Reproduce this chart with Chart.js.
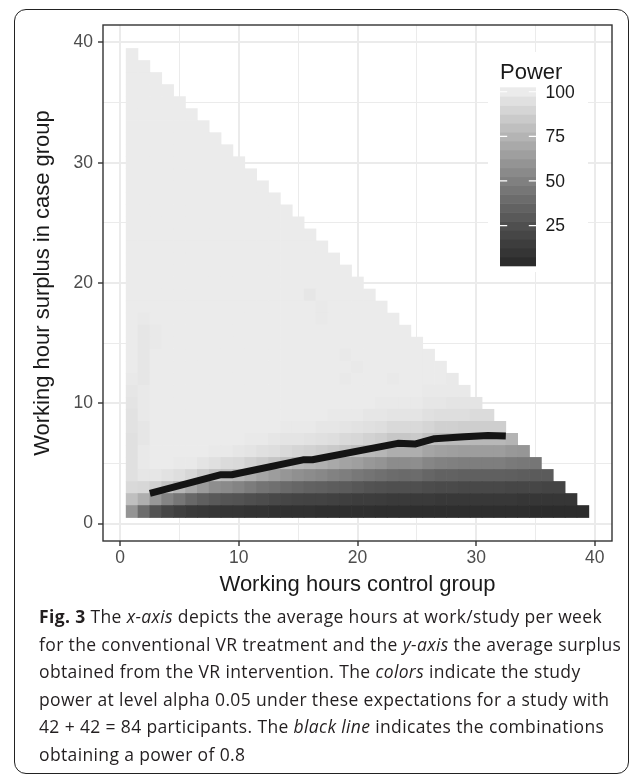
<!DOCTYPE html>
<html>
<head>
<meta charset="utf-8">
<script src="https://cdn.jsdelivr.net/npm/chart.js@4.4.0/dist/chart.umd.min.js"></script>
<style>
  html, body { margin: 0; padding: 0; background: #fff; }
  body { width: 633px; height: 774px; position: relative; overflow: hidden; }
  #frame { position: absolute; left: 14px; top: 9px; width: 615px; height: 765px; box-sizing: border-box;
           border: 1.6px solid #222; border-radius: 12px; pointer-events: none; }
  #chart { position: absolute; left: 0; top: 0; }
  #caption { position: absolute; left: 39px; top: 603px; font-family: "Open Sans", sans-serif; font-size: 17.5px;
             letter-spacing: 0.36px; line-height: 27.5px; color: #231f20; white-space: nowrap; }
</style>
</head>
<body>
<div id="frame"></div>
<canvas id="chart" width="633" height="605"></canvas>
<div id="caption"><b>Fig. 3</b> The <i>x-axis</i> depicts the average hours at work/study per week<br>for the conventional VR treatment and the <i>y-axis</i> the average surplus<br>obtained from the VR intervention. The <i>colors</i> indicate the study<br>power at level alpha 0.05 under these expectations for a study with<br>42 + 42 = 84 participants. The <i>black line</i> indicates the combinations<br>obtaining a power of 0.8</div>
<script>
// tick labels
const xTicks = [0, 10, 20, 30, 40];
const yTicks = [0, 10, 20, 30, 40];
const gridSteps = [0, 5, 10, 15, 20, 25, 30, 35, 40];
const legendBreaks = [25, 50, 75, 100];

// power (%) per row of surplus hours (y = 1..39), columns are control hours x = 1..(40 - y)
const row1 = [60,40,27,20,16,13,12,11,10,10,9,9,8,8,8,8,7,7,7,7,7,6,6,6,6,6,6,6,6,6,6,6,6,6,5,5,5,5,5];
const row2 = [80,72,62,52,45,38,33,30,28,27,25,23,21,20,19,18,18,17,16,15,15,14,13,13,13,13,12,12,12,12,12,12,12,11,11,11,11,11];
const row3 = [92,91,88,82,76,70,63,57,55,52,48,44,42,39,37,35,34,32,31,29,27,26,25,25,25,23,22,22,21,21,21,21,20,20,20,19,19];
const row4 = [95,98,98,96,94,91,86,82,79,76,72,68,64,61,58,56,54,51,49,46,44,42,40,39,40,37,35,35,34,34,34,34,33,32,31,31];
const row5 = [95,99,100,100,99,99,97,95,93,92,89,86,83,80,77,75,73,70,67,65,62,60,56,56,57,53,51,50,49,49,49,49,47,46,45];
const row6 = [95,99,100,100,100,100,100,99,99,98,97,95,94,92,90,89,87,85,83,80,78,76,72,72,72,68,66,65,64,64,64,64,62,61];
const row7 = [95,98,100,100,100,100,100,100,100,100,99,99,98,97,97,96,95,94,92,91,89,87,84,84,85,81,79,78,78,77,77,77,75];
const row8 = [96,98,100,100,100,100,100,100,100,100,100,100,100,99,99,99,98,98,97,96,95,94,92,92,92,90,88,88,87,87,87,87];
const row9 = [96,99,100,100,100,100,100,100,100,100,100,100,100,100,100,100,100,99,99,99,98,98,97,97,97,95,94,94,94,93,93];
const row10 = [97,99,100,100,100,100,100,100,100,100,100,100,100,100,100,100,100,100,100,100,100,99,99,99,99,98,98,97,97,97];
const row11 = [98,99,100,100,100,100,100,100,100,100,100,100,100,100,100,100,100,100,100,100,100,100,100,100,100,99,99,99,99];
const row12 = [99,98,100,100,100,100,100,100,100,100,100,100,100,100,100,100,100,100,99,100,100,100,99,100,100,100,100,99];
const row13 = [100,98,100,100,100,100,100,100,100,100,100,100,100,100,100,100,100,100,100,99,100,100,100,100,100,100,100];
const row14 = [100,98,100,100,100,100,100,100,100,100,100,100,100,100,100,100,100,100,99,100,100,100,100,100,100,100];
const row15 = [100,98,99,100,100,100,100,100,100,100,100,100,100,100,100,100,100,100,100,100,100,100,100,100,100];
const row16 = [100,98,99,100,100,100,100,100,100,100,100,100,100,100,100,100,100,100,100,100,100,100,100,100];
const row17 = [100,99,100,100,100,100,100,100,100,100,100,100,100,100,100,100,99,100,100,100,100,100,100];
const row18 = [100,100,100,100,100,100,100,100,100,100,100,100,100,100,100,100,99,100,100,100,100,100];
const row19 = [100,100,100,100,100,100,100,100,100,100,100,100,100,100,100,98,100,100,100,100,100];
const row20 = [100,100,100,100,100,100,100,100,100,100,100,100,100,100,100,100,100,100,100,100];
const row21 = [100,100,100,100,100,100,100,100,100,100,100,100,100,100,100,100,100,100,100];
const row22 = [100,100,100,100,100,100,100,100,100,100,100,100,100,100,100,100,100,100];
const row23 = [100,100,100,100,100,100,100,100,100,100,100,100,100,100,100,100,100];
const row24 = [100,100,100,100,100,100,100,100,100,100,100,100,100,100,100,100];
const row25 = [100,100,100,100,100,100,100,100,100,100,100,100,100,100,100];
const row26 = [100,100,100,100,100,100,100,100,100,100,100,100,100,100];
const row27 = [100,100,100,100,100,100,100,100,100,100,100,100,100];
const row28 = [100,100,100,100,100,100,100,100,100,100,100,100];
const row29 = [100,100,100,100,100,100,100,100,100,100,100];
const row30 = [100,100,100,100,100,100,100,100,100,100];
const row31 = [100,100,100,100,100,100,100,100,100];
const row32 = [100,100,100,100,100,100,100,100];
const row33 = [100,100,100,100,100,100,100];
const row34 = [100,100,100,100,100,100];
const row35 = [100,100,100,100,100];
const row36 = [100,100,100,100];
const row37 = [100,100,100];
const row38 = [100,100];
const row39 = [100];

// combinations giving a power of 0.8
const lineX = [2.5, 8.5, 9.4, 15.4, 16.2, 23.4, 24.9, 26.5, 29.0, 31.0, 32.5];
const lineY = [2.5, 4.06, 4.06, 5.3, 5.3, 6.67, 6.62, 7.06, 7.22, 7.32, 7.27];

const powerRows = [row1, row2, row3, row4, row5, row6, row7, row8, row9, row10, row11, row12, row13,
  row14, row15, row16, row17, row18, row19, row20, row21, row22, row23, row24, row25, row26, row27,
  row28, row29, row30, row31, row32, row33, row34, row35, row36, row37, row38, row39];

const allPower = powerRows.flat();
const pMin = Math.min(...allPower);
const pMax = Math.max(...allPower);

// grey gradient interpolated in Lab lightness, like ggplot's scale_fill_gradient
function srgbToL(g) {
  const c = g / 255;
  const lin = c <= 0.04045 ? c / 12.92 : Math.pow((c + 0.055) / 1.055, 2.4);
  const f = lin > 0.008856 ? Math.cbrt(lin) : 7.787 * lin + 16 / 116;
  return 116 * f - 16;
}
function lToGrey(L) {
  const fy = (L + 16) / 116;
  const lin = fy ** 3 > 0.008856 ? fy ** 3 : (fy - 16 / 116) / 7.787;
  const c = lin <= 0.0031308 ? 12.92 * lin : 1.055 * Math.pow(lin, 1 / 2.4) - 0.055;
  return Math.round(Math.max(0, Math.min(1, c)) * 255);
}
const lowL = srgbToL(44), highL = srgbToL(235);
function powerColor(v) {
  const t = (v - pMin) / (pMax - pMin);
  const g = lToGrey(lowL + t * (highL - lowL));
  return 'rgb(' + g + ',' + g + ',' + g + ')';
}

const tileSets = powerRows.map((vals, i) => ({
  type: 'bar',
  data: vals.map((p, j) => ({ x: j + 1, y: [i + 0.5, i + 1.5] })),
  backgroundColor: vals.map(powerColor),
  borderWidth: 0,
  barPercentage: 1,
  categoryPercentage: 1,
  grouped: false,
  order: 2
}));

const lineSet = {
  type: 'line',
  data: lineX.map((x, i) => ({ x: x, y: lineY[i] })),
  borderColor: '#141414',
  borderWidth: 7,
  borderCapStyle: 'butt',
  borderJoinStyle: 'round',
  pointRadius: 0,
  tension: 0,
  fill: false,
  order: 1
};

const isMajor = c => c.tick && c.tick.value % 10 === 0;

const panelBorder = {
  id: 'panelBorder',
  afterDatasetsDraw(chart) {
    const { ctx, chartArea: a } = chart;
    ctx.save();
    ctx.strokeStyle = '#333333';
    ctx.lineWidth = 1.4;
    ctx.strokeRect(a.left, a.top, a.right - a.left, a.bottom - a.top);
    ctx.restore();
  }
};

const powerLegend = {
  id: 'powerLegend',
  afterDraw(chart) {
    const ctx = chart.ctx;
    ctx.save();
    ctx.fillStyle = '#ffffff';
    ctx.fillRect(488, 52, 100, 220);
    ctx.fillStyle = '#1a1a1a';
    ctx.font = '22px "Liberation Sans", Arial, sans-serif';
    ctx.textBaseline = 'alphabetic';
    ctx.textAlign = 'left';
    ctx.fillText('Power', 500, 79);
    const top = 87.3, bottom = 265.7, left = 500, w = 36, h = bottom - top, nbin = 20;
    for (let i = 0; i < nbin; i++) {
      const v = pMin + i * (pMax - pMin) / (nbin - 1);
      ctx.fillStyle = powerColor(v);
      const y0 = bottom - (i + 1) * h / nbin;
      ctx.fillRect(left, y0, w, h / nbin + (i < nbin - 1 ? 0.6 : 0));
    }
    ctx.font = '17.5px "Liberation Sans", Arial, sans-serif';
    ctx.textBaseline = 'middle';
    legendBreaks.forEach(b => {
      const f = (0.5 + (nbin - 1) * (b - pMin) / (pMax - pMin)) / nbin;
      const y = bottom - f * h;
      ctx.strokeStyle = '#ffffff';
      ctx.lineWidth = 1.2;
      ctx.beginPath();
      ctx.moveTo(left, y); ctx.lineTo(left + w / 5, y);
      ctx.moveTo(left + w - w / 5, y); ctx.lineTo(left + w, y);
      ctx.stroke();
      ctx.fillStyle = '#1a1a1a';
      ctx.fillText(String(b), 545.5, y + 1);
    });
    ctx.restore();
  }
};

Chart.defaults.font.family = '"Liberation Sans", Arial, sans-serif';

new Chart(document.getElementById('chart'), {
  type: 'bar',
  data: { datasets: [lineSet, ...tileSets] },
  options: {
    responsive: false,
    devicePixelRatio: 1,
    animation: false,
    layout: { padding: { left: 0, top: 25, right: 21, bottom: 0 } },
    plugins: { legend: { display: false }, tooltip: { enabled: false } },
    scales: {
      x: {
        type: 'linear',
        min: -1.45,
        max: 41.45,
        offset: false,
        afterBuildTicks: s => { s.ticks = gridSteps.map(v => ({ value: v })); },
        afterFit: s => { s.height = 64; },
        ticks: {
          autoSkip: false, maxRotation: 0, padding: 2, color: '#4d4d4d', font: { size: 17.5 },
          callback: v => xTicks.includes(v) ? String(v) : ''
        },
        grid: {
          offset: false,
          color: '#ebebeb',
          lineWidth: c => isMajor(c) ? 2 : 1,
          tickLength: 5,
          tickColor: c => isMajor(c) ? '#333333' : 'rgba(0,0,0,0)',
          tickWidth: 1.4
        },
        border: { display: false },
        title: { display: true, text: 'Working hours control group', color: '#1a1a1a',
                 font: { size: 22 }, padding: { top: 0, bottom: 7 } }
      },
      y: {
        type: 'linear',
        min: -1.45,
        max: 41.45,
        afterBuildTicks: s => { s.ticks = gridSteps.map(v => ({ value: v })); },
        afterFit: s => { s.width = 103; },
        ticks: {
          autoSkip: false, padding: 5, color: '#4d4d4d', font: { size: 17.5 },
          callback: v => yTicks.includes(v) ? String(v) : ''
        },
        grid: {
          color: '#ebebeb',
          lineWidth: c => isMajor(c) ? 2 : 1,
          tickLength: 5,
          tickColor: c => isMajor(c) ? '#333333' : 'rgba(0,0,0,0)',
          tickWidth: 1.4
        },
        border: { display: false },
        title: { display: true, text: 'Working hour surplus in case group', color: '#1a1a1a',
                 font: { size: 22 }, padding: { top: 30, bottom: 0 } }
      }
    }
  },
  plugins: [panelBorder, powerLegend]
});
</script>
</body>
</html>
